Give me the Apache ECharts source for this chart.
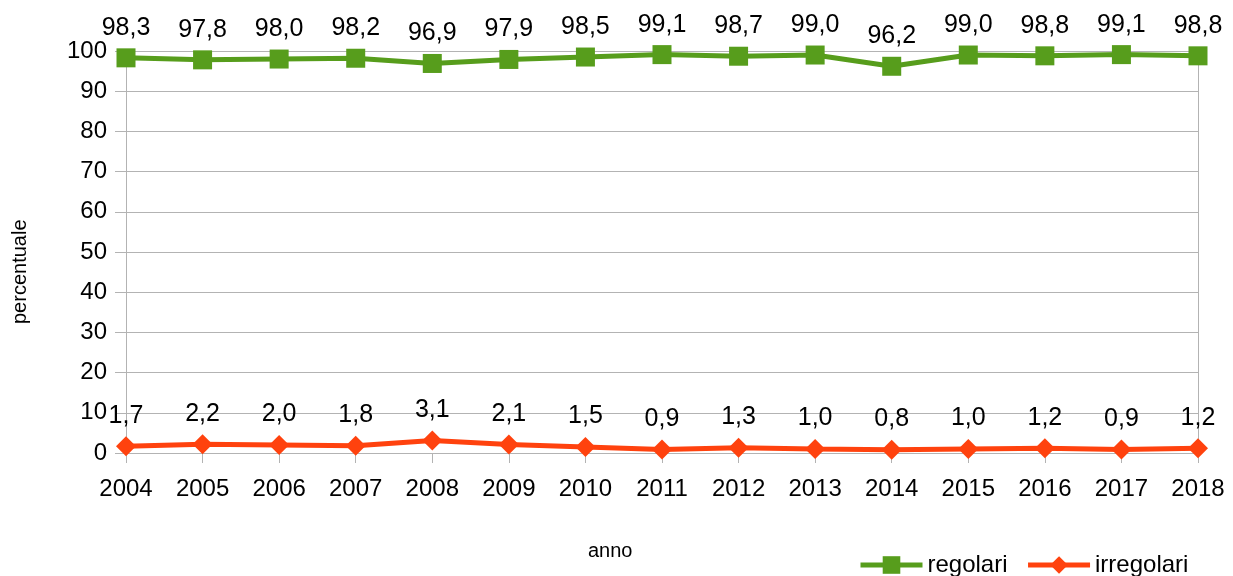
<!DOCTYPE html>
<html>
<head>
<meta charset="utf-8">
<script src="https://cdn.jsdelivr.net/npm/echarts@6/dist/echarts.min.js"></script>
<style>
  html, body { margin: 0; padding: 0; background: #fff; }
  #chart { width: 1233px; height: 576px; }
</style>
</head>
<body>
<div id="chart"></div>
<script>
var anni = ['2004', '2005', '2006', '2007', '2008', '2009', '2010', '2011', '2012', '2013', '2014', '2015', '2016', '2017', '2018'];
var regolari = [98.3, 97.8, 98.0, 98.2, 96.9, 97.9, 98.5, 99.1, 98.7, 99.0, 96.2, 99.0, 98.8, 99.1, 98.8];
var irregolari = [1.7, 2.2, 2.0, 1.8, 3.1, 2.1, 1.5, 0.9, 1.3, 1.0, 0.8, 1.0, 1.2, 0.9, 1.2];

var myChart = echarts.init(document.getElementById('chart'));

// etichette con la virgola decimale
function virgola(p) {
    return p.value.toFixed(1).replace('.', ',');
}

var font = 'Liberation Sans, Arial, sans-serif';

myChart.setOption({
    animation: false,
    textStyle: { fontFamily: font },
    grid: { left: 126, right: 35, top: 51, bottom: 123, outerBoundsMode: 'none', containLabel: false },
    graphic: [
        {
            type: 'text', left: 588, top: 541,
            style: { text: 'anno', fontSize: 20, fill: '#000', fontFamily: font }
        },
        {
            type: 'text', x: 10, y: 324, rotation: Math.PI / 2,
            style: { text: 'percentuale', fontSize: 20, fill: '#000', fontFamily: font }
        }
    ],
    legend: {
        left: 853,
        top: 548,
        itemWidth: 62,
        itemHeight: 22,
        itemGap: 18,
        lineStyle: { width: 5 },
        textStyle: { fontSize: 24, color: '#000', fontFamily: font },
        data: ['regolari', 'irregolari']
    },
    xAxis: {
        type: 'category',
        data: anni,
        boundaryGap: false,
        axisLine: { show: false },
        axisTick: { show: true, length: 10, lineStyle: { color: '#b3b3b3' } },
        axisLabel: { fontSize: 24, color: '#000', margin: 24 },
        splitLine: {
            show: true,
            interval: function (i) { return i === 0 || i === anni.length - 1; },
            lineStyle: { color: '#b3b3b3', width: 1 }
        }
    },
    yAxis: {
        type: 'value',
        min: 0,
        max: 100,
        interval: 10,
        axisLine: { show: false },
        axisTick: { show: true, length: 11, lineStyle: { color: '#b3b3b3' } },
        axisLabel: { fontSize: 24, color: '#000', margin: 19 },
        splitLine: { lineStyle: { color: '#b3b3b3', width: 1 } }
    },
    series: [
        {
            name: 'regolari',
            type: 'line',
            data: regolari,
            symbol: 'rect',
            symbolSize: 19,
            color: '#579d1c',
            lineStyle: { width: 5, color: '#579d1c' },
            itemStyle: { color: '#579d1c' },
            label: {
                show: true,
                position: 'top',
                distance: 8,
                fontSize: 25,
                color: '#000',
                formatter: virgola
            }
        },
        {
            name: 'irregolari',
            type: 'line',
            data: irregolari,
            symbol: 'diamond',
            symbolSize: 20,
            color: '#ff420e',
            lineStyle: { width: 5, color: '#ff420e' },
            itemStyle: { color: '#ff420e' },
            label: {
                show: true,
                position: 'top',
                distance: 8,
                fontSize: 25,
                color: '#000',
                formatter: virgola
            }
        }
    ]
});
</script>
</body>
</html>
